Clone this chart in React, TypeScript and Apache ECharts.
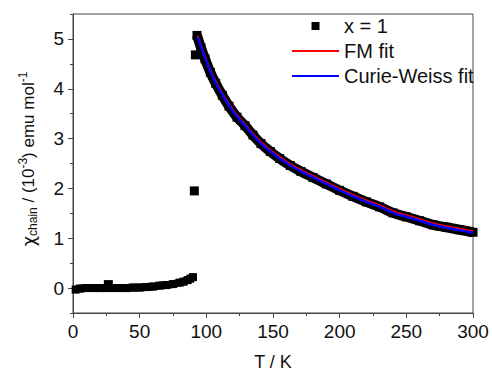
import React, { useEffect, useRef } from "react";
import * as echarts from "echarts";

// Data
const lowT = [2, 5, 10, 15, 20, 25, 30, 35, 40, 45, 50, 55, 60, 65, 70, 75, 80, 83, 86, 88, 90];
const lowChi = [-0.03, -0.01, 0, 0, 0, 0, 0, 0, 0, 0.01, 0.01, 0.02, 0.03, 0.05, 0.06, 0.08, 0.11, 0.13, 0.16, 0.19, 0.22];

const outlierT = [26.5, 91, 91.8];
const outlierChi = [0.07, 1.95, 4.68];

const highT = [93, 96, 99, 103, 107, 112, 117, 123, 129, 135, 141, 148, 155, 163, 171, 180, 190, 200, 210, 220, 230, 240, 250, 260, 270, 280, 290, 300];
const highChi = [5.07, 4.82, 4.6, 4.33, 4.11, 3.87, 3.65, 3.43, 3.26, 3.07, 2.9, 2.74, 2.6, 2.46, 2.34, 2.22, 2.09, 1.96, 1.84, 1.73, 1.63, 1.51, 1.43, 1.35, 1.27, 1.22, 1.17, 1.12];

const fitT = [93.5, 96, 99, 103, 107, 112, 117, 123, 129, 135, 141, 148, 155, 163, 171, 180, 190, 200, 210, 220, 230, 240, 250, 260, 270, 280, 290, 300];
const fmChi = [5.06, 4.87, 4.65, 4.38, 4.15, 3.91, 3.69, 3.47, 3.29, 3.1, 2.93, 2.77, 2.63, 2.49, 2.37, 2.25, 2.12, 1.99, 1.87, 1.76, 1.66, 1.54, 1.46, 1.38, 1.3, 1.24, 1.19, 1.14];
const cwChi = [5.03, 4.84, 4.62, 4.35, 4.12, 3.88, 3.66, 3.44, 3.26, 3.07, 2.9, 2.74, 2.6, 2.46, 2.34, 2.22, 2.09, 1.96, 1.84, 1.73, 1.63, 1.51, 1.43, 1.35, 1.27, 1.21, 1.16, 1.11];

const xTicks = { min: 0, max: 300, interval: 50 };
const yMajor = [0, 1, 2, 3, 4, 5];

const FONT = "'Liberation Sans', Arial, sans-serif";
const AXIS = "#444";
const TXT = "#111";

const zip = (a: number[], b: number[]) => a.map((v, i) => [v, b[i]]);

export default function App() {
  const ref = useRef<HTMLDivElement>(null);
  useEffect(() => {
    if (!ref.current) return;
    const chart = echarts.init(ref.current, null, { renderer: "svg" });
    chart.setOption({
      animation: false,
      backgroundColor: "#fff",
      textStyle: { fontFamily: FONT },
      grid: {
        left: 73,
        right: 19,
        top: 14,
        bottom: 59,
        containLabel: false,
        outerBoundsMode: "none",
        show: true,
        borderColor: AXIS,
        borderWidth: 1,
      },
      legend: {
        left: 286,
        top: 11,
        orient: "vertical",
        itemWidth: 47,
        itemHeight: 8,
        itemGap: 5,
        selectedMode: false,
        textStyle: { fontSize: 20, color: TXT, fontFamily: FONT },
        data: [
          { name: "x = 1", icon: "path://M0 0H10V10H0Z", itemStyle: { color: "#000", opacity: 1 } },
          { name: "FM fit", itemStyle: { opacity: 0 } },
          { name: "Curie-Weiss fit", itemStyle: { opacity: 0 } },
        ],
      },
      xAxis: {
        type: "value",
        min: xTicks.min,
        max: xTicks.max,
        interval: xTicks.interval,
        name: "T / K",
        nameLocation: "middle",
        nameGap: 40,
        nameTextStyle: { fontSize: 18, lineHeight: 18, color: TXT, fontFamily: FONT },
        axisLine: { show: true, onZero: false, lineStyle: { color: AXIS, width: 1 } },
        axisTick: { show: true, length: 5, lineStyle: { color: AXIS } },
        minorTick: { show: true, splitNumber: 2, length: 3, lineStyle: { color: AXIS } },
        axisLabel: { fontSize: 19, color: TXT, margin: 9, fontFamily: FONT },
        splitLine: { show: false },
      },
      yAxis: [
        {
          type: "value",
          min: -0.5,
          max: 5.5,
          axisLine: { show: true, onZero: false, lineStyle: { color: AXIS, width: 1 } },
          axisTick: { show: true, length: 5, customValues: yMajor, lineStyle: { color: AXIS } },
          axisLabel: { fontSize: 19, color: TXT, margin: 9, customValues: yMajor, fontFamily: FONT },
          splitLine: { show: false },
        },
        {
          type: "value",
          min: -0.5,
          max: 5.5,
          interval: 0.5,
          position: "left",
          axisLine: { show: false },
          axisTick: { show: true, length: 3, lineStyle: { color: AXIS } },
          axisLabel: { show: false },
          splitLine: { show: false },
        },
      ],
      graphic: [
        {
          type: "text",
          x: 28,
          y: 159,
          rotation: Math.PI / 2,
          style: {
            text: "{c|χ}{s|chain}{n| / (10}{p|-3}{n|) emu mol}{p|-1}",
            align: "center",
            verticalAlign: "middle",
            fill: TXT,
            rich: {
              c: { fontSize: 18, fontFamily: "'DejaVu Sans', sans-serif", fill: TXT, lineHeight: 22, verticalAlign: "middle" },
              n: { fontSize: 17, fontFamily: FONT, fill: TXT, lineHeight: 22, verticalAlign: "middle" },
              s: { fontSize: 12, fontFamily: FONT, fill: TXT, verticalAlign: "bottom", lineHeight: 22 },
              p: { fontSize: 12, fontFamily: FONT, fill: TXT, verticalAlign: "top", lineHeight: 22 },
            },
          },
        },
      ],
      series: [
        {
          name: "x = 1",
          type: "scatter",
          symbol: "rect",
          symbolSize: 9,
          itemStyle: { color: "#000", opacity: 1 },
          data: zip(outlierT, outlierChi),
        },
        {
          name: "x = 1",
          type: "line",
          symbol: "rect",
          symbolSize: 8,
          showAllSymbol: true,
          itemStyle: { color: "#000" },
          lineStyle: { color: "#000", width: 8 },
          data: zip(lowT, lowChi),
        },
        {
          name: "x = 1",
          type: "line",
          symbol: "rect",
          symbolSize: 9,
          showAllSymbol: true,
          smooth: true,
          itemStyle: { color: "#000" },
          lineStyle: { color: "#000", width: 10 },
          data: zip(highT, highChi),
        },
        {
          name: "FM fit",
          type: "line",
          symbol: "none",
          smooth: true,
          z: 5,
          itemStyle: { color: "#ff0000" },
          lineStyle: { color: "#ff0000", width: 2 },
          data: zip(fitT, fmChi),
        },
        {
          name: "Curie-Weiss fit",
          type: "line",
          symbol: "none",
          smooth: true,
          z: 6,
          itemStyle: { color: "#0000ff" },
          lineStyle: { color: "#0000ff", width: 2.5 },
          data: zip(fitT, cwChi),
        },
      ],
    });
    return () => chart.dispose();
  }, []);
  return (
    <div
      ref={ref}
      style={{ position: "fixed", left: 0, top: 0, width: 492, height: 372 }}
    />
  );
}
